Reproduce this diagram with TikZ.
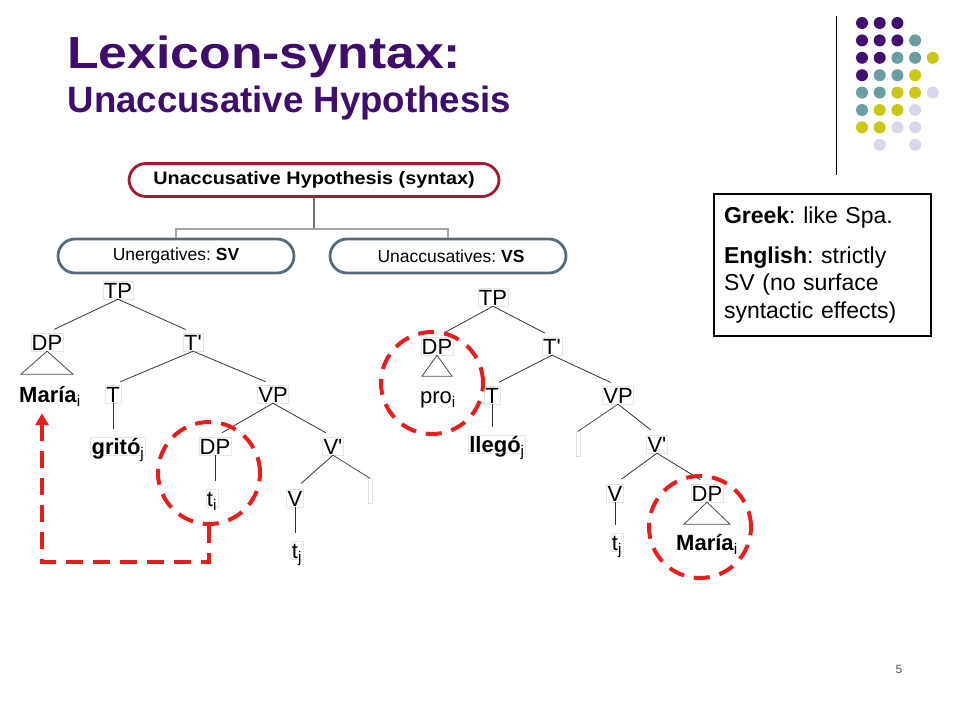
\documentclass[tikz,border=0pt]{standalone}
\usepackage{fontspec}
\setmainfont{Liberation Sans}
\usepackage{xcolor}
\usepackage{graphicx}
\usepackage{tikz}
\usetikzlibrary{positioning, arrows.meta, calc}
\frenchspacing
\definecolor{titlepurple}{RGB}{62,14,108}
\definecolor{dotP}{RGB}{64,16,112}
\definecolor{dotT}{RGB}{108,157,160}
\definecolor{dotY}{RGB}{200,200,24}
\definecolor{dotL}{RGB}{216,216,234}
\definecolor{dotN}{RGB}{255,255,255}
\definecolor{ovalred}{RGB}{160,26,52}
\definecolor{ovalslate}{RGB}{86,106,122}
\definecolor{dashred}{RGB}{232,30,30}
\tikzstyle{rootoval} = [rectangle, rounded corners=17pt, draw=ovalred, line width=2.8pt, minimum width=370pt, minimum height=33pt, font=\fontsize{18}{18}\selectfont\bfseries]
\tikzstyle{typeoval} = [rectangle, rounded corners=17pt, draw=ovalslate, line width=2.8pt, minimum width=236pt, minimum height=34pt, font=\fontsize{17.5}{17.5}\selectfont]
\tikzstyle{cat} = [rectangle, font=\fontsize{22}{22}\selectfont, inner sep=1pt, text height=16pt, text depth=0pt, draw=black!10]
\tikzstyle{word} = [cat, draw=none]
\tikzstyle{emptyleaf} = [rectangle, minimum width=4pt, minimum height=25pt, inner sep=0pt, draw=black!12]
\tikzstyle{branch} = [black!80, line width=0.8pt, shorten >=8pt]
\tikzstyle{roof} = [black!70, line width=0.8pt]
\tikzstyle{trace} = [circle, draw=dashred, line width=4pt, dash pattern=on 16pt off 10pt, minimum size=102pt, inner sep=0pt]
\tikzstyle{movearrow} = [draw=dashred, line width=4pt, dash pattern=on 17pt off 10pt, ->, >={Stealth[length=12pt,width=13pt,inset=0pt]}]
\tikzstyle{splitline} = [draw=black!35, line width=1.2pt]
\tikzstyle{langbox} = [rectangle, draw=black, line width=2.5pt, minimum width=217pt, minimum height=142pt, text width=197pt, align=left, font=\fontsize{23}{27.5}\selectfont]

\begin{document}
\begin{tikzpicture}[x=1pt, y=-1pt, node distance=52pt]
\useasboundingbox (0,0) rectangle (960,720);
\fill [white] (0,0) rectangle (960,720);

% slide title and corner decoration
\node (title) [anchor=base west, inner sep=0pt, font=\fontsize{45}{45}\selectfont\bfseries, text=titlepurple] at (67,68) {\scalebox{1.15}[1]{Lexicon-syntax:}};
\node (subtitle) [anchor=base west, inner sep=0pt, font=\fontsize{36.6}{36.6}\selectfont\bfseries, text=titlepurple] at (67.5,112) {Unaccusative Hypothesis};
\draw [line width=1pt] (836.5,16) -- (836.5,175);
\foreach \cols [count=\r] in {{P,P,P,N,N},{P,P,P,T,N},{P,P,T,T,Y},{P,T,T,Y,N},{T,T,Y,Y,L},{T,Y,Y,L,N},{Y,Y,L,L,N},{N,L,N,L,N}}
  \foreach \c [count=\k] in \cols
    \fill [dot\c] ({844.3+17.7*\k},{5.6+17.4*\r}) circle (6pt);

% hypothesis ovals
\node (hyp) [rootoval] at (314,180) {\scalebox{1.1}[1]{Unaccusative Hypothesis (syntax)}};
\node (unerg) [typeoval] at (176,256) {Unergatives: \textbf{SV}};
\node (unacc) [typeoval] at (448,256) {\hspace{6pt}Unaccusatives: \textbf{VS}};
\coordinate (split) at ($(hyp.south)+(0,31)$);
\draw [draw=black!55, line width=1.2pt] (hyp.south) -- (split);
\draw [splitline] (unerg.north) |- (split) -| (unacc.north);

% unergative tree
\node (TPa) [cat] at (118,290) {TP};
\node (DPa) [cat, below of=TPa, xshift=-71pt] {DP};
\node (Tbara) [cat, below of=TPa, xshift=75pt] {T\textquotesingle};
\node (Mariaa) [word, below of=DPa, xshift=3pt] {\textbf{María}\textsubscript{i}};
\node (Ta) [cat, below of=Tbara, xshift=-80pt] {T};
\node (VPa) [cat, below of=Tbara, xshift=80pt] {VP};
\node (grito) [cat, below of=Ta, xshift=5pt] {\textbf{gritó}\textsubscript{j}};
\node (DPta) [cat, below of=VPa, xshift=-58pt] {DP};
\node (Vbara) [cat, below of=VPa, xshift=60pt] {V\textquotesingle};
\node (tia) [cat, below of=DPta, xshift=-3pt] {t\textsubscript{i}};
\node (Va) [cat, below of=Vbara, xshift=-38pt] {V};
\node (emptya) [emptyleaf, below of=Vbara, xshift=37pt, yshift=7pt] {};
\node (tja) [cat, below of=Va, xshift=2pt] {t\textsubscript{j}};

\draw [branch] (TPa.south) -- (DPa.north);
\draw [branch] (TPa.south) -- (Tbara.north);
\draw [roof] (DPa.south) -- ++(-26,23) -- ++(52,0) -- cycle;
\draw [branch] (Tbara.south) -- (Ta.north);
\draw [branch] (Tbara.south) -- (VPa.north);
\draw [branch] (Ta.south) -- (Ta.south |- grito.north);
\draw [branch] (VPa.south) -- (DPta.north);
\draw [branch] (VPa.south) -- (Vbara.north);
\draw [branch] (DPta.south) -- (DPta.south |- tia.north);
\draw [branch] (Vbara.south) -- (Va.north);
\draw [roof] (Vbara.south) -- (emptya.north);
\draw [branch] (Va.south) -- (Va.south |- tja.north);

% unaccusative tree
\begin{scope}[node distance=49pt]
\node (TPb) [cat] at (493,297) {TP};
\node (DPb) [cat, below of=TPb, xshift=-56pt] {DP};
\node (Tbarb) [cat, below of=TPb, xshift=59pt] {T\textquotesingle};
\node (pro) [word, below of=DPb, xshift=1pt] {pro\textsubscript{i}};
\node (Tb) [cat, below of=Tbarb, xshift=-60pt] {T};
\node (VPb) [cat, below of=Tbarb, xshift=66pt] {VP};
\node (llego) [cat, below of=Tb, xshift=5pt] {\textbf{llegó}\textsubscript{j}};
\node (emptyb) [emptyleaf, below of=VPb, xshift=-40pt] {};
\node (Vbarb) [cat, below of=VPb, xshift=39pt] {V\textquotesingle};
\node (Vb) [cat, below of=Vbarb, xshift=-42pt] {V};
\node (DPc) [cat, below of=Vbarb, xshift=50pt] {DP};
\node (tjb) [cat, below of=Vb, xshift=2pt] {t\textsubscript{j}};
\node (Mariab) [word, below of=DPc] {\textbf{María}\textsubscript{i}};
\end{scope}

\draw [branch] (TPb.south) -- (DPb.north);
\draw [branch] (TPb.south) -- (Tbarb.north);
\draw [roof] (DPb.south) -- ++(-15,21) -- ++(30,0) -- cycle;
\draw [branch] (Tbarb.south) -- (Tb.north);
\draw [branch] (Tbarb.south) -- (VPb.north);
\draw [branch] (Tb.south) -- (Tb.south |- llego.north);
\draw [roof] (VPb.south) -- (emptyb.north);
\draw [branch] (VPb.south) -- (Vbarb.north);
\draw [branch] (Vbarb.south) -- (Vb.north);
\draw [branch] (Vbarb.south) -- (DPc.north);
\draw [branch] (Vb.south) -- (Vb.south |- tjb.north);
\draw [roof] (DPc.south) -- ++(-23,22) -- ++(46,0) -- cycle;

% traces and movement
\node (ringA) [trace] at ($(tia)+(-3,-25)$) {};
\node (ringB) [trace] at ($(pro)+(-6,-12)$) {};
\node (ringC) [trace] at ($(Mariab)+(-7,-15)$) {};
\draw [movearrow] (ringA.south) -- ++(0,36) -| ([xshift=-8pt, yshift=-10pt]Mariaa.south);

% language note
\node (langnote) [langbox] at (822.5,265) {\textbf{Greek}: like Spa.\\[12pt]\textbf{English}: strictly\\SV (no surface\\syntactic effects)};
\node (pageno) [font=\fontsize{12}{12}\selectfont, text=black!65] at (899,669) {5};
\end{tikzpicture}
\end{document}
